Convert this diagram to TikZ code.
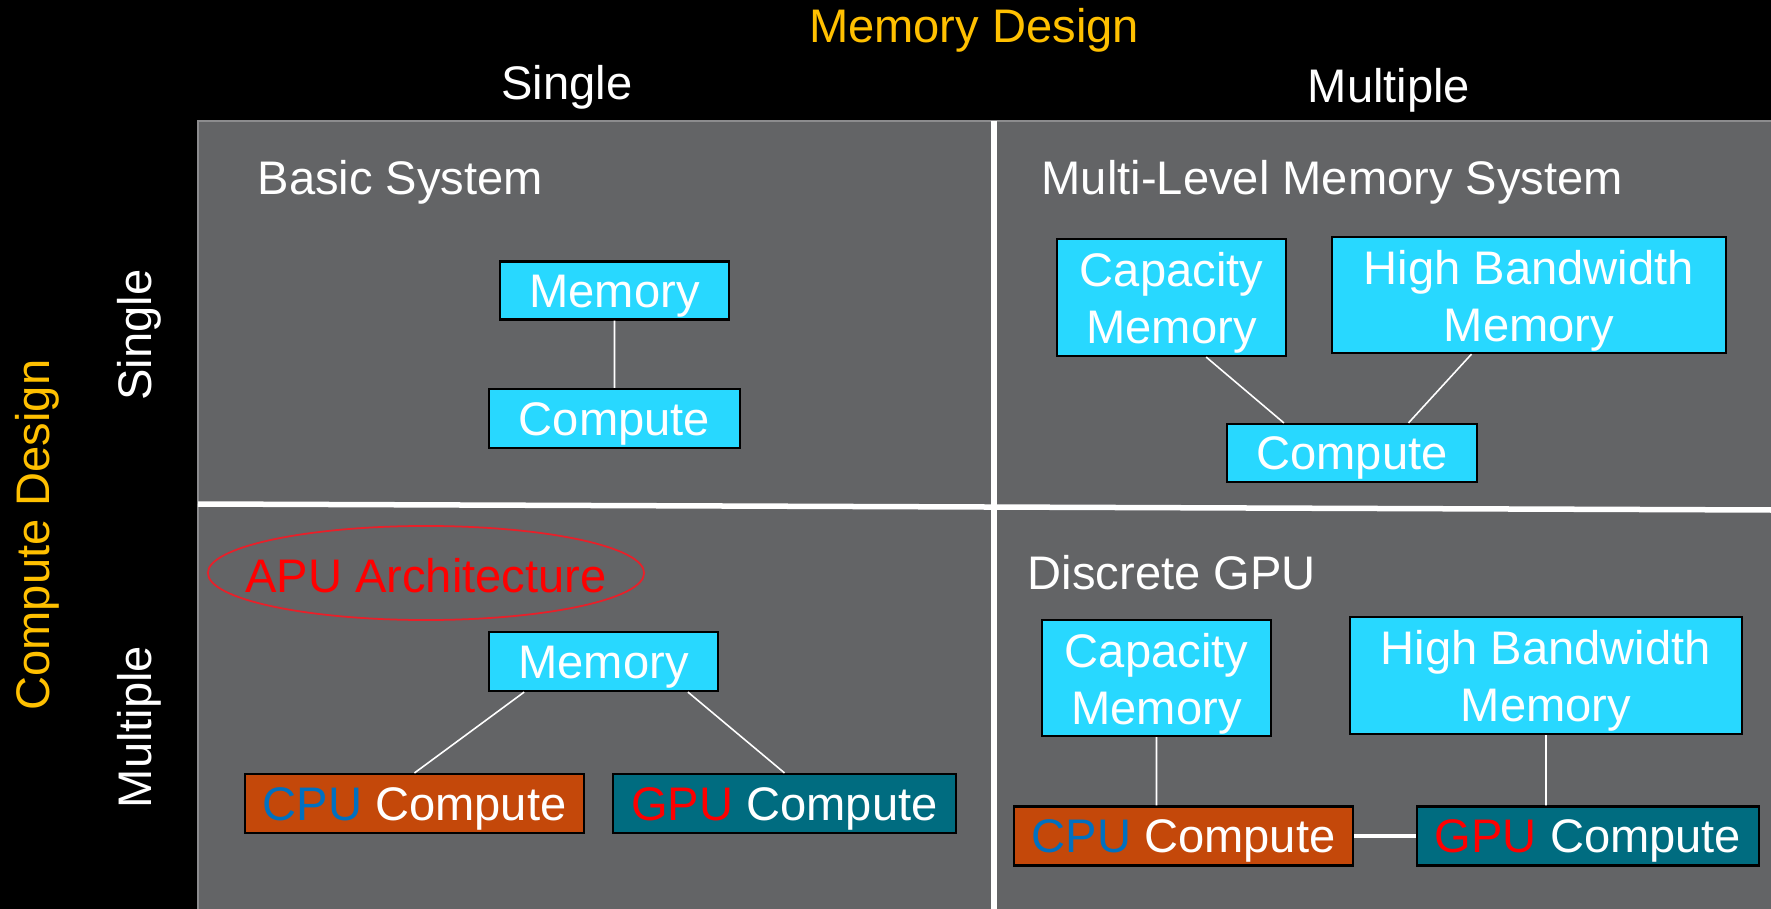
\documentclass[tikz,border=0pt]{standalone}
\usepackage{fontspec}
\setmainfont{Liberation Sans}
\usetikzlibrary{calc,shapes.geometric}

\definecolor{panelgrey}{RGB}{99,100,102}
\definecolor{paneledge}{RGB}{140,140,142}
\definecolor{boxcyan}{RGB}{40,216,255}
\definecolor{cpuorange}{RGB}{196,72,10}
\definecolor{gputeal}{RGB}{0,108,128}
\definecolor{cpublue}{RGB}{0,112,192}
\definecolor{gold}{RGB}{255,192,0}
\definecolor{apured}{RGB}{232,32,42}

% raises the top line of a two-line box
\newcommand{\topstrut}{\rule{0pt}{13pt}}

\begin{document}
\begin{tikzpicture}[x=0.01cm,y=-0.01cm]
    \tikzset{every node/.style={font=\fontsize{13.4pt}{16.2pt}\selectfont}
    , block/.style= {draw=black, rectangle
    , line width=0.6pt
    , fill=boxcyan
    , text=white
    , align=center
    , text height=9.4pt
    , text depth=0pt
      }
    , block2/.style={block
    , text height=
    , text depth=
    , inner ysep=0pt
      }
    , cpublock/.style={block, fill=cpuorange, minimum height=0.59cm}
    , gpublock/.style={block, fill=gputeal, minimum height=0.59cm}
    , lbl/.style={text=white, inner sep=0pt, anchor=base west}
    , head/.style={text=white, inner sep=0pt, anchor=base}
    , divider/.style={draw=white, line width=0.055cm}
    , wire/.style={draw=white, line width=0.45pt}
    }

\useasboundingbox (0,0) rectangle (1771,909);
\fill[black] (0,0) rectangle (1771,909);
\path[fill=panelgrey, draw=paneledge, line width=0.5pt] (198,121) rectangle (1790,930);
\path[divider] (994,121) -- (994,909);
\path[divider] (198,504) -- (1771,510);

% axis titles
\node[head, text=gold] (memdesign) at (974,43) {Memory Design};
\node[head] (colsingle) at (567,100) {Single};
\node[head] (colmulti) at (1389,102) {Multiple};
\node[head, text=gold, rotate=90] (compdesign) at (50,535) {Compute Design};
\node[head, rotate=90] (rowsingle) at (152,335) {Single};
\node[head, rotate=90] (rowmulti) at (152,727) {Multiple};

% single / single
\node[lbl] (basic) at (257,194) {Basic System};
\node[block, minimum width=2.29cm, minimum height=0.58cm] (mem1) at (614.5,290.5) {Memory};
\node[block, minimum width=2.51cm, minimum height=0.59cm] (comp1) at (614.5,418.5) {Compute};

% multiple memory
\node[lbl] (multilevel) at (1041,194) {Multi-Level Memory System};
\node[block2, minimum width=2.29cm, minimum height=1.17cm] (cap2) at (1171.5,297.5) {\topstrut Capacity\\Memory};
\node[block2, minimum width=3.94cm, minimum height=1.16cm] (hbm2) at (1529,295) {\topstrut High Bandwidth\\Memory};
\node[block, minimum width=2.50cm, minimum height=0.58cm] (comp2) at (1352,453) {Compute};

% multiple compute
\node[text=red, inner sep=0pt, text height=9.4pt, text depth=0pt] (apu) at (426,576) {APU Architecture};
\draw[apured, line width=0.5pt] (apu.center) ++(0,-3) ellipse [x radius=2.18cm, y radius=0.47cm];
\node[block, minimum width=2.29cm, minimum height=0.59cm] (mem3) at (603.5,661.5) {Memory};
\node[cpublock, minimum width=3.39cm] (cpu3) at (414.5,803.5) {\textcolor{cpublue}{CPU} Compute};
\node[gpublock, minimum width=3.43cm] (gpu3) at (784.5,803.5) {\textcolor{red}{GPU} Compute};

% discrete
\node[lbl] (discrete) at (1027,589) {Discrete GPU};
\node[block2, minimum width=2.29cm, minimum height=1.16cm] (cap4) at (1156.5,678) {\topstrut Capacity\\Memory};
\node[block2, minimum width=3.92cm, minimum height=1.17cm] (hbm4) at (1546,675.5) {\topstrut High Bandwidth\\Memory};
\node[cpublock, minimum width=3.39cm] (cpu4) at (1183.5,836) {\textcolor{cpublue}{CPU} Compute};
\node[gpublock, minimum width=3.42cm] (gpu4) at (1588,836) {\textcolor{red}{GPU} Compute};

 \path[wire]
  (mem1) -- (comp1)
  ($(cap2.south west)!0.65!(cap2.south east)$) -- ($(comp2.north west)!0.23!(comp2.north east)$)
  ($(hbm2.south west)!0.355!(hbm2.south east)$) -- ($(comp2.north west)!0.724!(comp2.north east)$)
  ($(mem3.south west)!0.157!(mem3.south east)$) -- (cpu3.north)
  ($(mem3.south west)!0.865!(mem3.south east)$) -- (gpu3.north)
  (cap4.south) -- (cap4.south |- cpu4.north)
  (hbm4.south) -- (hbm4.south |- gpu4.north);
 \path[wire, line width=0.9pt] (cpu4) -- (gpu4);
\end{tikzpicture}
\end{document}
